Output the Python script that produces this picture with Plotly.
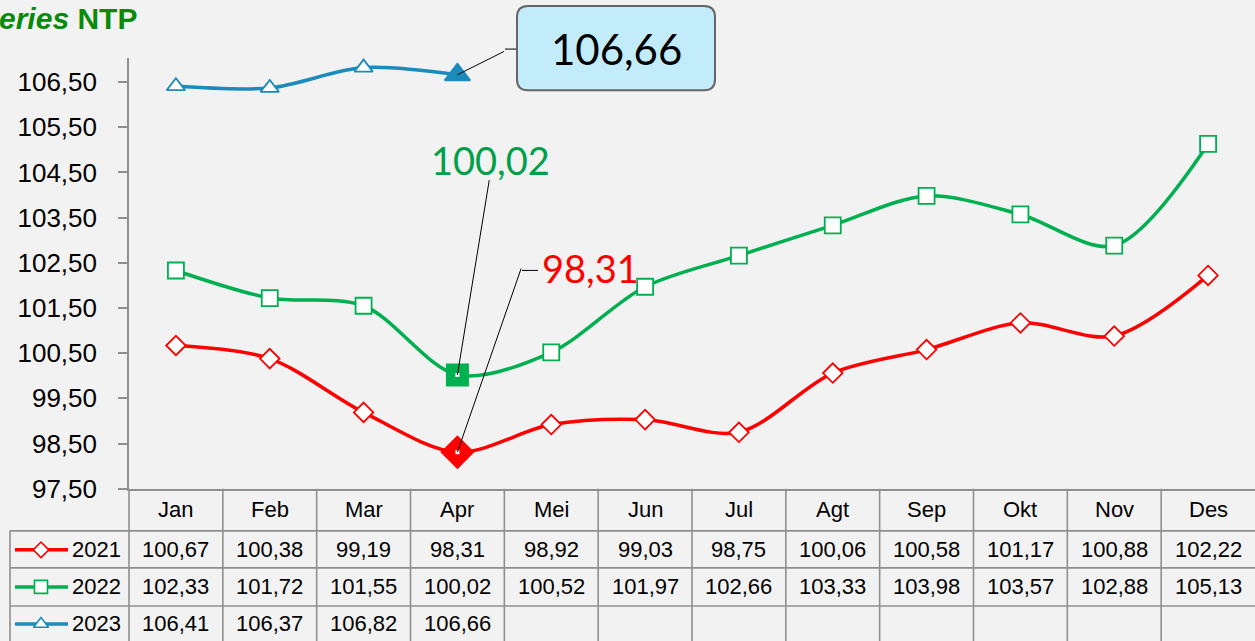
"""
plot.py – NTP monthly index, 2021-2023, Excel-style line chart with data table.
"""

import plotly.graph_objects as go

# ---------------------------------------------------------------------------
# Data
# ---------------------------------------------------------------------------
months = ["Jan", "Feb", "Mar", "Apr", "Mei", "Jun", "Jul", "Agt", "Sep", "Okt", "Nov", "Des"]
years = ["2021", "2022", "2023"]
ntp_2021 = [100.67, 100.38, 99.19, 98.31, 98.92, 99.03, 98.75, 100.06, 100.58, 101.17, 100.88, 102.22]
ntp_2022 = [102.33, 101.72, 101.55, 100.02, 100.52, 101.97, 102.66, 103.33, 103.98, 103.57, 102.88, 105.13]
ntp_2023 = [106.41, 106.37, 106.82, 106.66]
y_ticks = [97.5, 98.5, 99.5, 100.5, 101.5, 102.5, 103.5, 104.5, 105.5, 106.5]
highlight_month = 3  # Apr

# ---------------------------------------------------------------------------
# Styling
# ---------------------------------------------------------------------------
W, H = 1255, 641          # target picture size (layout is designed in these pixels)
H_FIG = 657               # figure height; the capture is squeezed back to H
YS = H_FIG / H            # vertical pixel factor for pixel-based offsets
BG = "#f2f2f2"
GRID = "#8f8f8f"
FONT = "Liberation Sans Narrow, Arial Narrow, Liberation Sans, Arial, sans-serif"
CALLOUT_FONT = "Lato, Carlito, Noto Sans, sans-serif"

SERIES = {
    "2021": dict(values=ntp_2021, color="#ff0000", symbol="diamond", size=15, hl_size=24),
    "2022": dict(values=ntp_2022, color="#00b050", symbol="square", size=16, hl_size=21),
    "2023": dict(values=ntp_2023, color="#1a8bbb", symbol="triangle-up", size=16, hl_size=22),
}

# pixel layout (in target pixels)
PLOT_L, PLOT_T, PLOT_B = 129, 58, 488
ROW_LINES = [530, 567, 605]
ROW_CENTERS = [549, 586, 623]
HEADER_CENTER = 509
TABLE_L = 10


def px(x):
    return x / W


def py(y):
    return 1 - y / H


def fmt(v):
    return f"{v:.2f}".replace(".", ",")


fig = go.Figure()

# main lines
for name, s in SERIES.items():
    xs = list(range(len(s["values"])))
    fig.add_trace(
        go.Scatter(
            x=xs,
            y=s["values"],
            mode="lines+markers",
            name=name,
            line=dict(color=s["color"], width=3.5, shape="spline", smoothing=0.9),
            marker=dict(
                symbol=s["symbol"],
                size=s["size"],
                color="white",
                line=dict(color=s["color"], width=1.8),
            ),
            showlegend=False,
        )
    )
    # highlighted April point
    fig.add_trace(
        go.Scatter(
            x=[highlight_month],
            y=[s["values"][highlight_month]],
            mode="markers",
            marker=dict(
                symbol=s["symbol"],
                size=s["hl_size"],
                color=s["color"],
                line=dict(color=s["color"], width=2),
            ),
            showlegend=False,
        )
    )

# small white dots where the callout leaders meet the points
fig.add_trace(
    go.Scatter(
        x=[highlight_month, highlight_month],
        y=[ntp_2021[highlight_month], ntp_2022[highlight_month]],
        mode="markers",
        marker=dict(symbol="square", size=4, color="white"),
        showlegend=False,
    )
)

# legend samples in the table's first column (pixel-unit helper axes)
for name, ry in zip(years, ROW_CENTERS):
    s = SERIES[name]
    fig.add_trace(
        go.Scatter(
            x=[15, 68], y=[ry, ry], mode="lines",
            line=dict(color=s["color"], width=3.5),
            xaxis="x2", yaxis="y2", showlegend=False,
        )
    )
    fig.add_trace(
        go.Scatter(
            x=[41], y=[ry], mode="markers",
            marker=dict(symbol=s["symbol"], size=s["size"] - 3, color="white",
                        line=dict(color=s["color"], width=1.6)),
            xaxis="x2", yaxis="y2", showlegend=False,
        )
    )

# ---------------------------------------------------------------------------
# Data table below the plot
# ---------------------------------------------------------------------------
shapes = []
line_style = dict(color=GRID, width=1.6)
for ry in ROW_LINES:
    shapes.append(dict(type="line", xref="paper", yref="paper",
                       x0=px(TABLE_L), x1=1, y0=py(ry), y1=py(ry), line=line_style))
shapes.append(dict(type="line", xref="paper", yref="paper",
                   x0=px(TABLE_L), x1=px(TABLE_L), y0=py(ROW_LINES[0]), y1=0, line=line_style))
shapes.append(dict(type="line", xref="paper", yref="paper",
                   x0=px(PLOT_L), x1=px(PLOT_L), y0=py(PLOT_B), y1=0, line=line_style))
for i in range(len(months) - 1):
    shapes.append(dict(type="line", xref="x", yref="paper",
                       x0=i + 0.5, x1=i + 0.5, y0=py(PLOT_B), y1=0, line=line_style))

annotations = []
cell_font = dict(family=FONT, size=22, color="black")
for i, m in enumerate(months):
    annotations.append(dict(x=i, y=py(HEADER_CENTER), xref="x", yref="paper",
                            yanchor="middle", text=m, showarrow=False, font=cell_font))
for name, ry in zip(years, ROW_CENTERS):
    vals = SERIES[name]["values"]
    annotations.append(dict(x=px(70), y=py(ry), xref="paper", yref="paper",
                            xanchor="left", yanchor="middle", text=name,
                            showarrow=False, font=cell_font))
    for i, v in enumerate(vals):
        annotations.append(dict(x=i, y=py(ry), xref="x", yref="paper",
                                yanchor="middle", text=fmt(v), showarrow=False,
                                font=cell_font))

# title (cut at the left edge as in the source)
annotations.append(dict(
    x=px(139), y=py(18), xref="paper", yref="paper", xanchor="right", yanchor="middle",
    text="<b><i>Series</i> NTP</b>", showarrow=False,
    font=dict(family=FONT, size=30, color="#0a8a0a"),
))

# ---------------------------------------------------------------------------
# Callouts for the April values
# ---------------------------------------------------------------------------
def leader(y_val, dx, dy):
    """Thin leader line from the highlighted point to (dx, dy) px offset."""
    return dict(
        x=highlight_month, y=y_val, xref="x", yref="y", text=" ",
        font=dict(size=1), borderpad=0, showarrow=True, arrowhead=0,
        arrowwidth=1, arrowcolor="black", ax=dx, ay=-dy * YS,
    )


# 2023 -> rounded box
annotations.append(leader(ntp_2023[highlight_month], 47, 23))
shapes.append(dict(type="line", xref="paper", yref="paper",
                   x0=px(505), x1=px(517), y0=py(49), y1=py(49),
                   line=dict(color="black", width=1)))
r = 11
bw, bh = 198, 82 * YS
shapes.append(dict(
    type="path", xref="paper", yref="paper",
    xsizemode="pixel", ysizemode="pixel", xanchor=px(517), yanchor=py(90),
    path=(f"M {r},0 L {bw - r},0 Q {bw},0 {bw},{r} L {bw},{bh - r} "
          f"Q {bw},{bh} {bw - r},{bh} L {r},{bh} Q 0,{bh} 0,{bh - r} "
          f"L 0,{r} Q 0,0 {r},0 Z"),
    fillcolor="#c3ecfb", line=dict(color="#666666", width=2),
))
annotations.append(dict(
    x=px(616), y=py(49), xref="paper", yref="paper", xanchor="center", yanchor="middle",
    text=fmt(ntp_2023[highlight_month]), showarrow=False,
    font=dict(family=CALLOUT_FONT, size=42, color="black"),
))

# 2022 -> green label
annotations.append(leader(ntp_2022[highlight_month], 32, 191))
annotations.append(dict(
    x=highlight_month, y=ntp_2022[highlight_month], xref="x", yref="y",
    xshift=33, yshift=210 * YS, text=fmt(ntp_2022[highlight_month]), showarrow=False,
    font=dict(family=CALLOUT_FONT, size=38, color="#00a04a"),
))

# 2021 -> red label
annotations.append(leader(ntp_2021[highlight_month], 64, 180))
shapes.append(dict(type="line", xref="paper", yref="paper",
                   x0=px(522), x1=px(538), y0=py(270), y1=py(270),
                   line=dict(color="black", width=1)))
annotations.append(dict(
    x=highlight_month, y=ntp_2021[highlight_month], xref="x", yref="y",
    xshift=83, yshift=180 * YS, xanchor="left", text=fmt(ntp_2021[highlight_month]),
    showarrow=False, font=dict(family=CALLOUT_FONT, size=38, color="#ff0000"),
))

fig.update_layout(
    width=W,
    height=H_FIG,
    autosize=False,
    margin=dict(l=0, r=0, t=0, b=0),
    paper_bgcolor=BG,
    plot_bgcolor=BG,
    separators=",.",
    font=dict(family=FONT, size=22, color="black"),
    xaxis=dict(
        domain=[px(PLOT_L), 1],
        range=[-0.5, len(months) - 0.5],
        showticklabels=False,
        showgrid=False,
        zeroline=False,
        showline=True,
        linecolor=GRID,
        linewidth=1.6,
        ticks="",
    ),
    yaxis=dict(
        domain=[py(PLOT_B), py(PLOT_T)],
        range=[97.5, 107.03],
        tickvals=y_ticks,
        tickformat=".2f",
        showgrid=False,
        zeroline=False,
        showline=True,
        linecolor=GRID,
        linewidth=1.6,
        ticks="outside",
        ticklen=9,
        tickcolor=GRID,
        tickwidth=1.6,
        ticklabelstandoff=16,
        tickfont=dict(family=FONT, size=26, color="black"),
    ),
    xaxis2=dict(domain=[0, px(PLOT_L)], range=[0, PLOT_L], visible=False),
    yaxis2=dict(domain=[0, py(ROW_LINES[0])], range=[H, ROW_LINES[0]], visible=False),
    shapes=shapes,
    annotations=annotations,
)

# pin the figure to the page's top-left corner
page_js = (
    "document.body.style.margin = '0';"
    f"document.body.style.background = '{BG}';"
    "var gd = document.getElementById('{plot_id}');"
    "gd.style.position = 'absolute'; gd.style.top = '0'; gd.style.left = '0';"
)

fig.write_html(
    "out.html",
    config={"responsive": False, "displayModeBar": False},
    post_script=page_js,
)
